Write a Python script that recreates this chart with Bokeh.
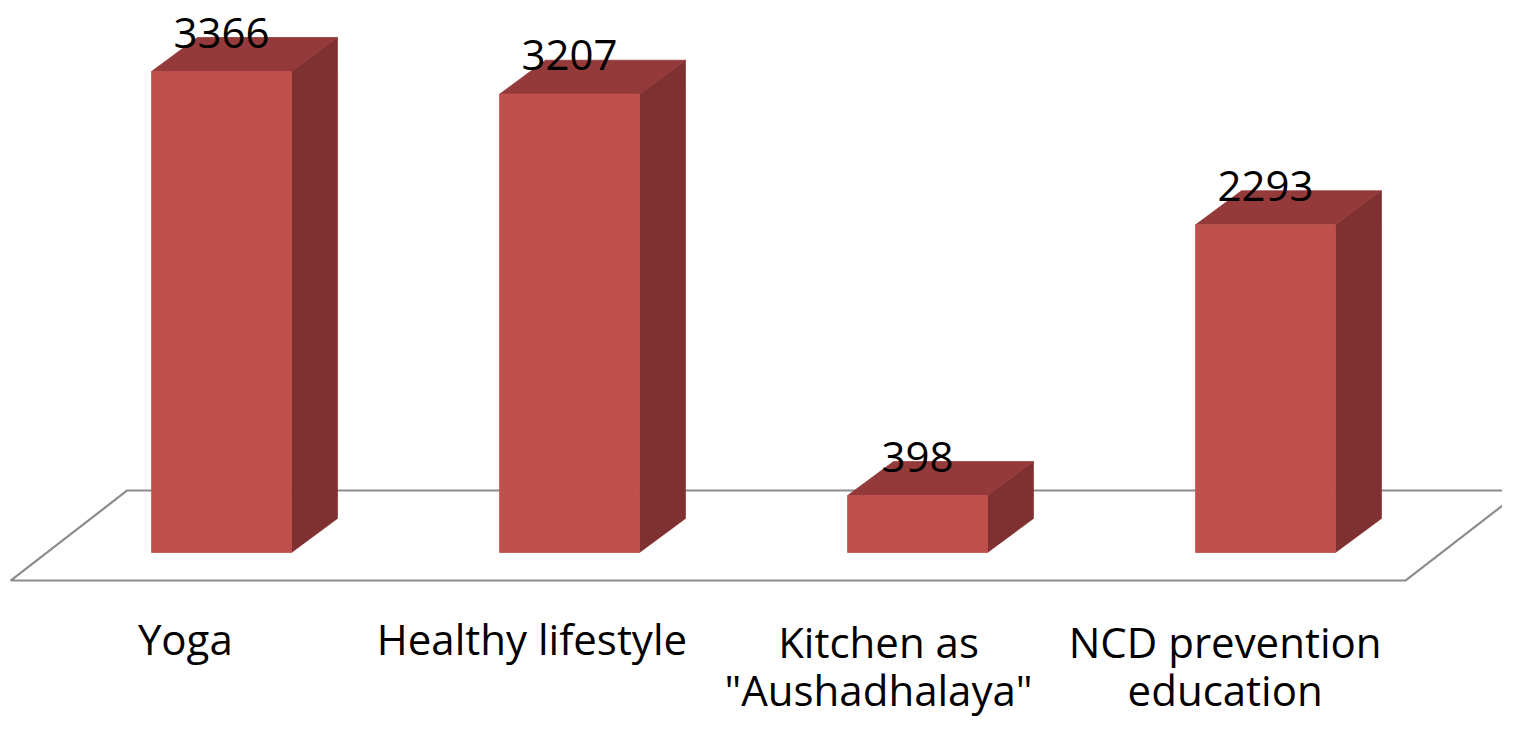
from bokeh.plotting import figure
from bokeh.models import Range1d, ColumnDataSource
from bokeh.core.properties import value
from bokeh.embed import file_html
from bokeh.resources import INLINE

# ---- data ----
categories = ["Yoga", "Healthy lifestyle", "Kitchen as\n\"Aushadhalaya\"", "NCD prevention\neducation"]
counts = [3366, 3207, 398, 2293]

# ---- style / layout ----
FRONT = "#C0504D"
SIDE = "#7E3130"
TOP = "#943A3A"
FLOOR_LINE = "#8C8C8C"
FONT = "Open Sans"

W, H = 1502, 717
bar_w = 0.402          # in category units
depth_x = 0.132        # 3D depth offset (category units)
depth_y = 238.0        # 3D depth offset (value units)

p = figure(width=W, height=H, output_backend="svg", toolbar_location=None,
           x_range=Range1d(-0.6351, 3.6810), y_range=Range1d(-1154.7, 3862.9),
           min_border=0, outline_line_color=None, background_fill_color="white")
p.xaxis.visible = False
p.yaxis.visible = False
p.grid.visible = False

# floor parallelogram
n = len(categories)
fl_left = -0.606
fl_right = fl_left + n * 1.002
fl_shift = 0.335
fl_front = -196.0
fl_back = 434.0
p.patch([fl_left, fl_right, fl_right + fl_shift, fl_left + fl_shift],
        [fl_front, fl_front, fl_back, fl_back],
        fill_color="white", line_color=FLOOR_LINE, line_width=2.2)

# bars
xs = list(range(n))
front_src = ColumnDataSource(dict(x=xs, top=counts))
side_x, side_y, top_x, top_y = [], [], [], []
for i, v in zip(xs, counts):
    l, r = i - bar_w / 2, i + bar_w / 2
    side_x.append([r, r + depth_x, r + depth_x, r])
    side_y.append([0, depth_y, v + depth_y, v])
    top_x.append([l, r, r + depth_x, l + depth_x])
    top_y.append([v, v, v + depth_y, v + depth_y])

p.patches(side_x, side_y, fill_color=SIDE, line_color=SIDE, line_width=0.8)
p.patches(top_x, top_y, fill_color=TOP, line_color=TOP, line_width=0.8)
p.vbar(x="x", top="top", bottom=0, width=bar_w, source=front_src,
       fill_color=FRONT, line_color=FRONT, line_width=0.8)

# value labels
lab_src = ColumnDataSource(dict(x=xs, y=counts, t=[str(c) for c in counts]))
p.text(x="x", y="y", text="t", source=lab_src, y_offset=-39,
       text_align="center", text_baseline="alphabetic",
       text_font=value(FONT), text_font_size="42px", text_color="black")

# category labels
lx, ly, lt, lo = [], [], [], []
for i, c in enumerate(categories):
    lines = c.split("\n")
    first = 86 if len(lines) == 1 else 89
    for j, ln in enumerate(lines):
        lx.append(-0.104 + i * 0.996)
        ly.append(0)
        lt.append(ln)
        lo.append(first + j * 48)
cat_src = ColumnDataSource(dict(x=lx, y=ly, t=lt, o=lo))
p.text(x="x", y="y", text="t", y_offset="o", source=cat_src,
       text_align="center", text_baseline="alphabetic",
       text_font=value(FONT), text_font_size="42px", text_color="black")

open("out.html", "w").write(file_html(p, INLINE))
